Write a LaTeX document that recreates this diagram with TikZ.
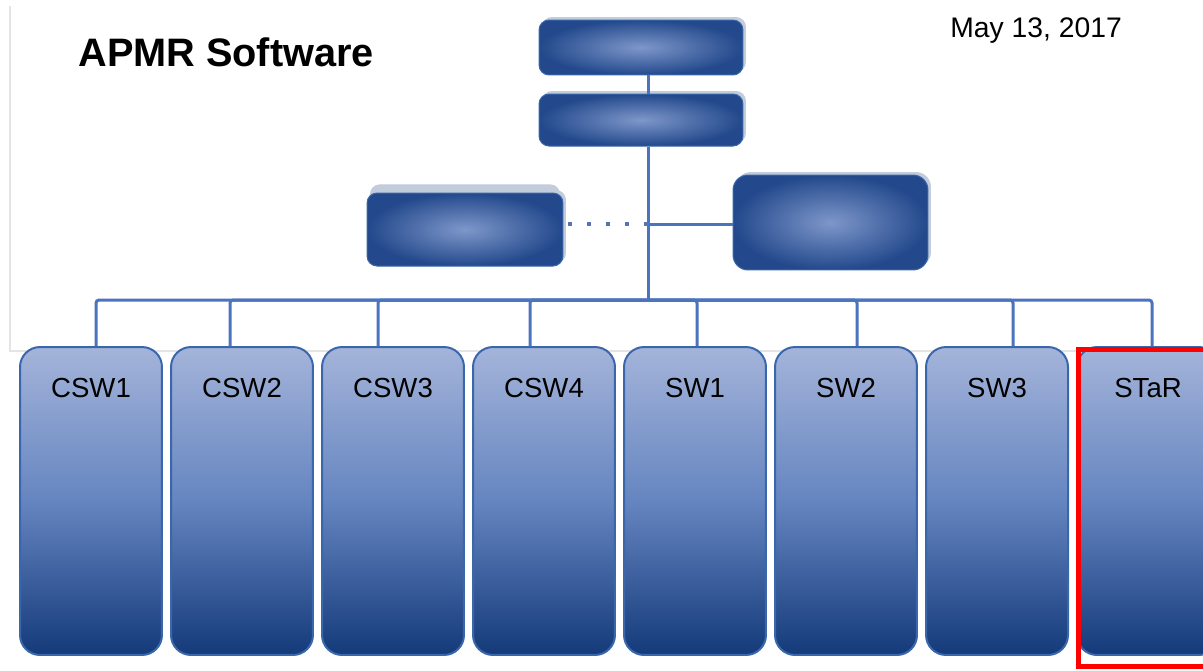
\documentclass[tikz,border=0pt]{standalone}
\usepackage{fontspec}
\setmainfont{Liberation Sans}
\usetikzlibrary{shadows}
\definecolor{linkblue}{HTML}{4A74BE}
\definecolor{edgeblue}{HTML}{3A67AC}
\definecolor{topdark}{HTML}{23498C}
\definecolor{toplight}{HTML}{7E97CA}
\definecolor{colhigh}{HTML}{A4B4DA}
\definecolor{colmid}{HTML}{6585C0}
\definecolor{collow}{HTML}{143A7A}
\definecolor{shadowgray}{HTML}{C3CCDA}
\definecolor{framegray}{HTML}{E4E4E4}
\tikzset{
  conn/.style={draw=linkblue, line width=0.06cm},
  headbox/.style={rounded corners=0.2cm, draw=edgeblue, line width=0.02cm,
    inner color=toplight, outer color=topdark,
    drop shadow={shadow xshift=0.06cm, shadow yshift=0.06cm, fill=shadowgray, opacity=1}},
  colbox/.style={rounded corners=0.4cm, draw=edgeblue, line width=0.04cm,
    top color=colhigh, bottom color=collow, middle color=colmid,
    minimum width=2.84cm, minimum height=6.16cm, inner sep=0pt},
  collabel/.style={font=\fontsize{15.7pt}{18pt}\selectfont, inner sep=0pt}
}
\begin{document}
\begin{tikzpicture}[x=0.02cm, y=-0.02cm]
  \clip (0,0) rectangle (1203,670);
  \fill[white] (0,0) rectangle (1203,670);
  \draw[framegray, line width=0.03cm] (10,6) -- (10,351) -- (1203,351);
  \node[font=\bfseries\fontsize{22.6pt}{26pt}\selectfont, anchor=base west, inner sep=0pt] (title) at (78,66) {APMR Software};
  \node[font=\fontsize{16.1pt}{19pt}\selectfont, anchor=base west, inner sep=0pt] (date) at (950,37) {May 13, 2017};
  \node[headbox, minimum width=4.08cm, minimum height=1.1cm] (boxA) at (641,47.5) {};
  \node[headbox, minimum width=4.08cm, minimum height=1.04cm] (boxB) at (641,120) {};
  \node[headbox, minimum width=3.92cm, minimum height=1.46cm,
    drop shadow={shadow xshift=0cm, shadow yshift=0.2cm, shadow scale=0.97, fill=shadowgray, opacity=1}] (boxC) at (465,229.5) {};
  \node[headbox, rounded corners=0.3cm, minimum width=3.9cm, minimum height=1.9cm] (boxD) at (830.5,222.5) {};
  \coordinate (bus) at (648,300);
  \coordinate (side) at (648,224);
  \draw[conn] (boxA.south -| bus) -- (boxB.north -| bus);
  \draw[conn] (boxB.south -| bus) -- (bus);
  \draw[conn] (side) -- (side -| boxD.west);
  \draw[linkblue!85!gray, line width=0.08cm, dash pattern=on 0.08cm off 0.3cm] (side) -- (side -| boxC.east);
  \foreach \name/\txt/\dx [count=\i from 0] in {csw1/CSW1/5, csw2/CSW2/-12, csw3/CSW3/-15, csw4/CSW4/-14,
      sw1/SW1/2, sw2/SW2/11, sw3/SW3/16, star/STaR/4} {
    \node[colbox] (\name) at (91+151*\i,501) {};
    \node[collabel] (\name-l) at ([yshift=-0.84cm]\name.north) {\txt};
    \draw[conn, rounded corners=0.06cm] ([xshift=\dx*0.02cm]\name.north) |- (bus);
  }
  \draw[red, line width=0.1cm] (1078,349) rectangle (1215,666);
\end{tikzpicture}
\end{document}
